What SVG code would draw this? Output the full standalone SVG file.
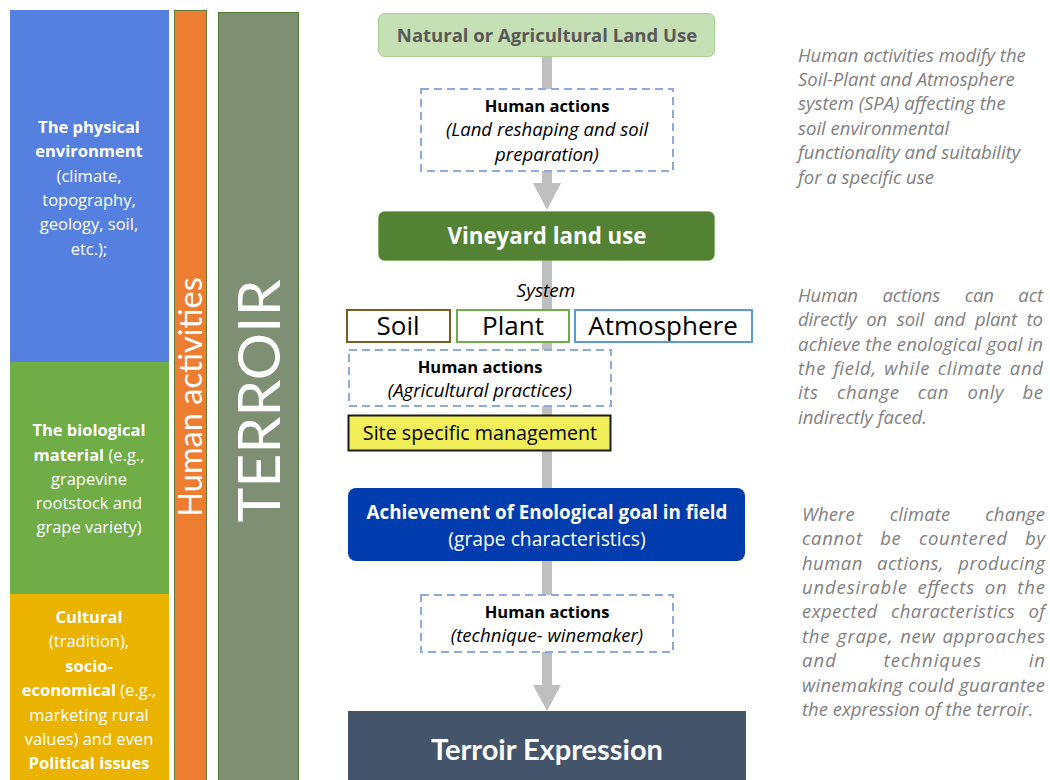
<svg xmlns="http://www.w3.org/2000/svg" width="1050" height="780" viewBox="0 0 1050 780">
<style>
text{font-family:"Open Sans",Lato,"Liberation Sans",sans-serif}
.lato{font-family:Lato,"Open Sans",sans-serif}
.lt{fill:#fff;font-size:16.5px;text-anchor:middle}
.b{font-weight:bold}
.dash{fill:#fff;stroke:#8EA9DB;stroke-width:2;stroke-dasharray:8 5}
.ha{font-size:16.5px;font-weight:bold;fill:#000;text-anchor:middle}
.hi{font-size:18.6px;font-style:italic;fill:#000;text-anchor:middle}
.rt{font-size:18.5px;font-style:italic;fill:#808080}
.spa{fill:#fff;stroke-width:2}
.spat{font-size:26px;fill:#000;text-anchor:middle}
.conn{fill:#BFBFBF}
</style>
<rect width="1050" height="780" fill="#fff"/>
<g id="physical">
<rect x="10" y="10" width="159" height="352" fill="#5680DF"/>
<text class="lt"><tspan class="b" x="89" y="133">The physical</tspan><tspan class="b" x="89" y="157">environment</tspan><tspan x="89" y="182">(climate,</tspan><tspan x="89" y="206">topography,</tspan><tspan x="89" y="230">geology, soil,</tspan><tspan x="89" y="255">etc.);</tspan></text>
</g>
<g id="biological">
<rect x="10" y="362" width="159" height="232" fill="#70AD47"/>
<text class="lt"><tspan class="b" x="89" y="436">The biological</tspan><tspan x="89" y="461"><tspan class="b">material</tspan> (e.g.,</tspan><tspan x="89" y="485">grapevine</tspan><tspan x="89" y="509">rootstock and</tspan><tspan x="89" y="533">grape variety)</tspan></text>
</g>
<g id="cultural">
<rect x="10" y="594" width="159" height="186" fill="#E9B300"/>
<text class="lt"><tspan class="b" x="89" y="623">Cultural</tspan><tspan x="89" y="647">(tradition),</tspan><tspan class="b" x="89" y="672">socio-</tspan><tspan x="89" y="696"><tspan class="b">economical</tspan> (e.g.,</tspan><tspan x="89" y="721">marketing rural</tspan><tspan x="89" y="745">values) and even</tspan><tspan class="b" x="89" y="769">Political issues</tspan></text>
</g>
<g id="human-activities">
<rect x="174.5" y="10.5" width="32" height="775" fill="#ED7D31" stroke="#5E7D3A" stroke-width="1"/>
<text class="lato" transform="translate(202,397) rotate(-90)" font-size="32.5" fill="#fff" text-anchor="middle">Human activities</text>
</g>
<g id="terroir">
<rect x="218.5" y="12.5" width="80" height="775" fill="#7F8F73" stroke="#4E7A2A" stroke-width="1"/>
<text class="lato" transform="translate(280,401) rotate(-90)" font-size="59" fill="#fff" text-anchor="middle">TERROIR</text>
</g>
<g id="connectors">
<rect class="conn" x="542" y="57" width="10" height="128"/>
<polygon class="conn" points="533,183 561,183 547,210"/>
<rect class="conn" x="542" y="260" width="10" height="228"/>
<rect class="conn" x="542" y="561" width="10" height="126"/>
<polygon class="conn" points="533,685 561,685 547,711"/>
</g>
<g id="natural">
<rect x="378.5" y="13.5" width="336" height="43" rx="6" fill="#C5E0B4" stroke="#A9D18E"/>
<text x="547" y="42" font-size="18.5" font-weight="bold" fill="#595959" text-anchor="middle">Natural or Agricultural Land Use</text>
</g>
<g id="actions1">
<rect class="dash" x="421" y="89" width="252" height="82"/>
<text class="ha" x="547" y="112">Human actions</text>
<text class="hi"><tspan x="547" y="136">(Land reshaping and soil</tspan><tspan x="547" y="161">preparation)</tspan></text>
</g>
<g id="vineyard">
<rect x="378.5" y="211.5" width="336" height="49" rx="6" fill="#548235" stroke="#70AD47" stroke-width="0.5"/>
<text x="547" y="244" font-size="22.3" font-weight="bold" fill="#fff" text-anchor="middle">Vineyard land use</text>
</g>
<g id="system">
<text x="546" y="297" font-size="19" font-style="italic" fill="#000" text-anchor="middle">System</text>
</g>
<g id="soil">
<rect class="spa" x="347" y="310" width="103" height="32" stroke="#7F5A20"/>
<text class="spat" x="398" y="335">Soil</text>
</g>
<g id="plant">
<rect class="spa" x="457" y="310" width="112" height="32" stroke="#70AD47"/>
<text class="spat" x="513" y="335">Plant</text>
</g>
<g id="atmosphere">
<rect class="spa" x="575" y="310" width="177" height="32" stroke="#5B9BD5"/>
<text class="spat" x="663" y="335" font-size="27.5">Atmosphere</text>
</g>
<g id="actions2">
<rect class="dash" x="349" y="350" width="262" height="56"/>
<text class="ha" x="480" y="373">Human actions</text>
<text class="hi" x="480" y="397">(Agricultural practices)</text>
</g>
<g id="site">
<rect x="348.5" y="415.5" width="262" height="35" fill="#F0EF5A" stroke="#1a1a1a" stroke-width="2"/>
<text x="480" y="440" font-size="19.7" fill="#000" text-anchor="middle">Site specific management</text>
</g>
<g id="achievement">
<rect x="348" y="488" width="397" height="73" rx="8" fill="#003CAE"/>
<text x="547" y="519" font-size="18.8" font-weight="bold" fill="#fff" text-anchor="middle">Achievement of Enological goal in field</text>
<text x="547" y="546" font-size="19.3" fill="#fff" text-anchor="middle">(grape characteristics)</text>
</g>
<g id="actions3">
<rect class="dash" x="421" y="595" width="252" height="57"/>
<text class="ha" x="547" y="618">Human actions</text>
<text class="hi" x="547" y="642">(technique- winemaker)</text>
</g>
<g id="expression">
<rect x="348" y="711" width="398" height="69" fill="#44546A"/>
<text class="lato" x="547" y="760" font-size="29" font-weight="bold" fill="#fff" text-anchor="middle">Terroir Expression</text>
</g>
<g id="note1">
<text class="rt"><tspan x="798" y="62">Human activities modify the</tspan><tspan x="798" y="86">Soil-Plant and Atmosphere</tspan><tspan x="798" y="110">system (SPA) affecting the</tspan><tspan x="798" y="135">soil environmental</tspan><tspan x="798" y="159">functionality and suitability</tspan><tspan x="798" y="184">for a specific use</tspan></text>
</g>
<g id="note2">
<text class="rt" x="798" y="302" textLength="245" lengthAdjust="spacing" word-spacing="20">Human actions can act</text>
<text class="rt" x="798" y="326" textLength="245" lengthAdjust="spacing" word-spacing="5">directly on soil and plant to</text>
<text class="rt" x="798" y="351" textLength="245" lengthAdjust="spacing">achieve the enological goal in</text>
<text class="rt" x="798" y="375" textLength="245" lengthAdjust="spacing" word-spacing="2">the field, while climate and</text>
<text class="rt" x="798" y="399" textLength="245" lengthAdjust="spacing" word-spacing="13">its change can only be</text>
<text class="rt" x="798" y="424">indirectly faced.</text>
</g>
<g id="note3">
<text class="rt" x="802" y="521" textLength="243" lengthAdjust="spacing" word-spacing="30">Where climate change</text>
<text class="rt" x="802" y="545" textLength="243" lengthAdjust="spacing" word-spacing="12">cannot be countered by</text>
<text class="rt" x="802" y="570" textLength="243" lengthAdjust="spacing" word-spacing="9">human actions, producing</text>
<text class="rt" x="802" y="594" textLength="243" lengthAdjust="spacing" word-spacing="4">undesirable effects on the</text>
<text class="rt" x="802" y="618" textLength="243" lengthAdjust="spacing" word-spacing="8">expected characteristics of</text>
<text class="rt" x="802" y="643" textLength="243" lengthAdjust="spacing" word-spacing="1.5">the grape, new approaches</text>
<text class="rt" x="802" y="667" textLength="243" lengthAdjust="spacing" word-spacing="41">and techniques in</text>
<text class="rt" x="802" y="692" textLength="243" lengthAdjust="spacing">winemaking could guarantee</text>
<text class="rt" x="802" y="716">the expression of the terroir.</text>
</g>
</svg>
